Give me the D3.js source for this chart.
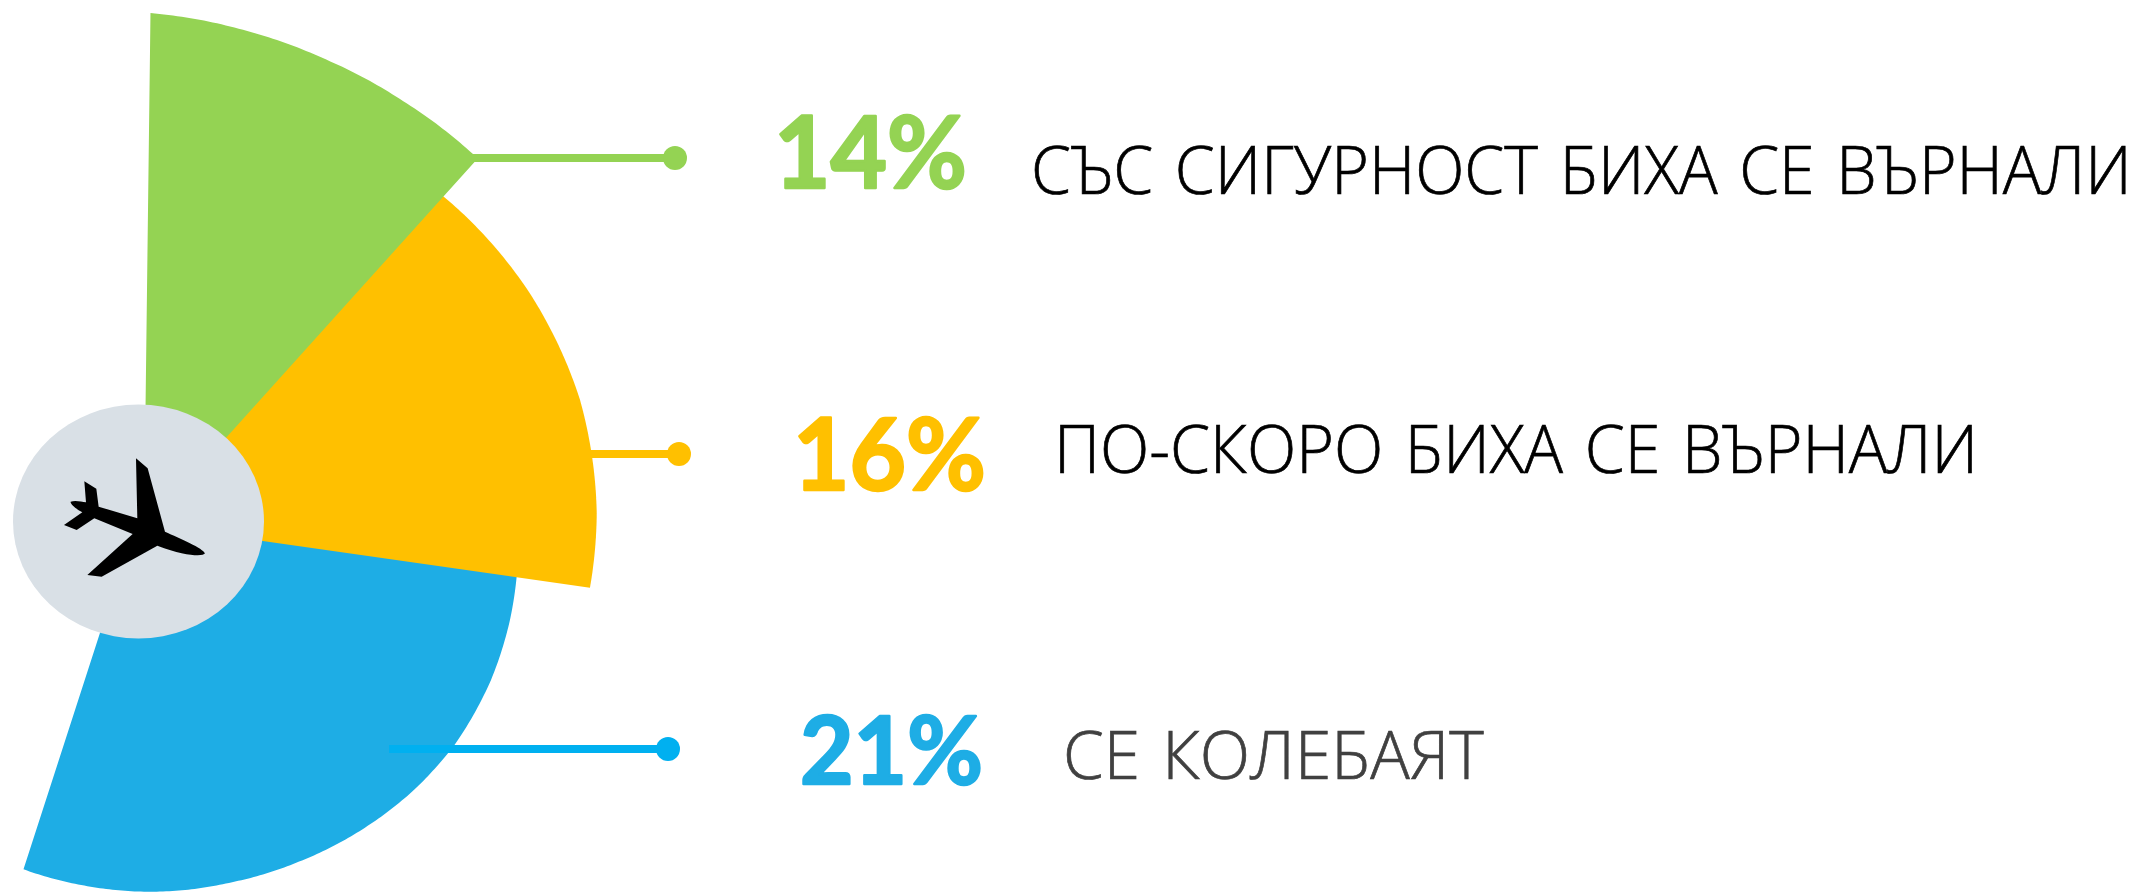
<!DOCTYPE html>
<html lang="bg">
<head>
<meta charset="utf-8">
<title>Биха ли се върнали</title>
<style>
  html, body { margin: 0; padding: 0; background: #fff; overflow: hidden; }
  svg { display: block; }
</style>
<script src="https://cdn.jsdelivr.net/npm/d3@7"></script>
</head>
<body>
<div id="chart"></div>
<script>
const categories = ['СЪС СИГУРНОСТ БИХА СЕ ВЪРНАЛИ', 'ПО-СКОРО БИХА СЕ ВЪРНАЛИ', 'СЕ КОЛЕБАЯТ'];
const shares = [14, 16, 21];

// rim of each slice: [degrees clockwise from north, reach]
const greenRim = [[0.72, 516], [11, 509], [21, 503.6], [31, 500.3], [42, 498.7]];
const amberRim = [[40, 447], [58, 452], [73.5, 454.7], [88, 453], [97.5, 449.8]];
const blueRim = [[94, 375], [104, 377.1], [113.5, 378.4], [124.7, 378.2], [134, 375.5], [143.5, 371.5], [155, 367], [166, 364], [179, 362.8], [190, 361.5], [199.5, 361]];
// the slices do not quite share one tip, it sits hidden under the grey disc
const sliceTips = [[0, 0], [0, 5], [270, 10.4]];

const W = 2141, H = 892;
const hub = { x: 144, y: 529 };
const colors = ['#94d353', '#ffc000', '#1eade5'];
const leaderColors = ['#94d353', '#ffc000', '#00b0f0'];
const labelColors = ['#000000', '#000000', '#404040'];

const rowY = d3.scaleOrdinal(categories, [158, 454, 749]);
const leaderStart = d3.scaleOrdinal(categories, [470, 585, 389]);
const leaderEnd = d3.scaleOrdinal(categories, [675, 679, 668]);
const shareX = d3.scaleOrdinal(categories, [774, 793, 800]);
const shareWidth = d3.scaleOrdinal(categories, [193, 193, 183]);
const shareBase = d3.scaleOrdinal(categories, [188, 490, 784]);
const shareSize = d3.scaleOrdinal(categories, [100, 100, 94]);
const labelX = d3.scaleOrdinal(categories, [1031, 1054, 1063]);
const labelWidth = d3.scaleOrdinal(categories, [1101, 924, 421]);
const labelBase = d3.scaleOrdinal(categories, [194, 473, 779]);

const angle = d3.scaleLinear().domain([0, 360]).range([0, 2 * Math.PI]);
const reach = d3.scaleLinear().domain([0, 516]).range([0, 516]);

const svg = d3.select('#chart').append('svg').attr('width', W).attr('height', H);
const g = svg.append('g').attr('transform', `translate(${hub.x},${hub.y})`);

const outline = d3.line();

// walk along the rim in small steps, so the edge stays round between the readings
function slicePath(rim, tip) {
  const rimReach = d3.scaleLinear().domain(rim.map(d => d[0])).range(rim.map(d => d[1]));
  const a0 = rim[0][0], a1 = rim[rim.length - 1][0];
  const steps = d3.range(a0, a1, 0.5).concat(a1);
  const pts = steps.map(a => d3.pointRadial(angle(a), reach(rimReach(a))));
  return outline([d3.pointRadial(angle(tip[0]), reach(tip[1])), ...pts]) + 'Z';
}

const slices = [greenRim, amberRim, blueRim].map((rim, i) => ({ rim, tip: sliceTips[i], color: colors[i] }));

// blue goes first, amber over it, green over amber
g.selectAll('path.slice').data(slices.slice().reverse()).enter().append('path')
  .attr('class', 'slice')
  .attr('fill', d => d.color)
  .attr('d', d => slicePath(d.rim, d.tip));

// leaders
const rows = svg.append('g').selectAll('g').data(categories).enter().append('g');
rows.append('line')
  .attr('x1', d => leaderStart(d)).attr('x2', d => leaderEnd(d))
  .attr('y1', d => rowY(d)).attr('y2', d => rowY(d))
  .attr('stroke', (d, i) => leaderColors[i]).attr('stroke-width', 8);
rows.append('circle')
  .attr('cx', d => leaderEnd(d)).attr('cy', d => rowY(d)).attr('r', 12)
  .attr('fill', (d, i) => leaderColors[i]);

// squeeze a text to the width it has in the picture
function fitWidth(sel, xOf, yOf, widthOf) {
  sel.each(function (d) {
    const sx = widthOf(d) / this.getComputedTextLength();
    d3.select(this).attr('transform', `translate(${xOf(d)},${yOf(d)}) scale(${sx},1)`);
  });
}

rows.append('text')
  .attr('font-family', 'Lato, "Open Sans", sans-serif').attr('font-weight', 700)
  .attr('font-size', d => shareSize(d))
  .attr('fill', (d, i) => colors[i])
  .attr('stroke', (d, i) => colors[i]).attr('stroke-width', 2.5).attr('stroke-linejoin', 'round')
  .text((d, i) => shares[i] + '%')
  .call(fitWidth, shareX, shareBase, shareWidth);

rows.append('text')
  .attr('font-family', '"Open Sans", sans-serif').attr('font-weight', 300)
  .attr('font-size', 66).attr('word-spacing', 5)
  .attr('fill', (d, i) => labelColors[i])
  .attr('stroke', (d, i) => labelColors[i]).attr('stroke-width', 0.7)
  .text(d => d)
  .call(fitWidth, labelX, labelBase, labelWidth);

// grey disc and the plane on it
svg.append('ellipse')
  .attr('cx', 138.5).attr('cy', 521.5).attr('rx', 125.5).attr('ry', 117)
  .attr('fill', '#d9e0e6');

svg.append('path')
  .attr('transform', 'translate(0,380) scale(0.3333)')
  .attr('fill', '#000')
  .attr('d', 'M408,235L443,265L495,455C540,475 610,505 615,520C610,530 560,530 472,497L305,590L262,585L398,462L283,415L230,450L192,435L247,397C225,385 210,372 212,365C225,360 245,365 258,367L253,304L289,326L296,380L412,415Z');
</script>
</body>
</html>
